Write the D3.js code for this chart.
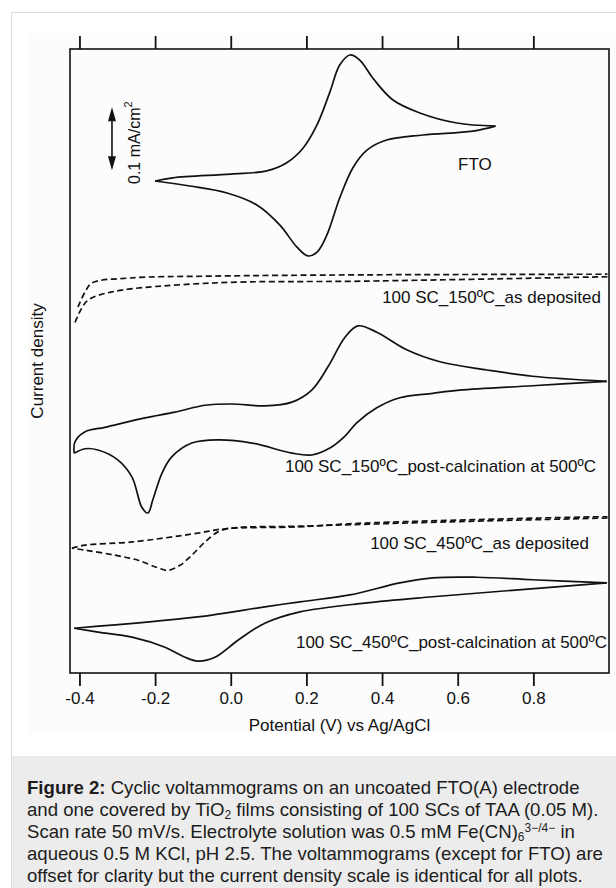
<!DOCTYPE html>
<html>
<head>
<meta charset="utf-8">
<script src="https://cdn.jsdelivr.net/npm/d3@7"></script>
<style>
  body { margin: 0; background: #fff; }
  #wrap { position: relative; width: 616px; height: 888px; overflow: hidden; }
  svg { position: absolute; left: 0; top: 0; }
  #caption {
    position: absolute; left: 27px; top: 777px;
    font-family: "Liberation Sans", Arial, sans-serif; font-size: 18.6px;
    line-height: 22px; color: #1c1c1c; white-space: nowrap;
  }
  #caption sub, #caption sup { font-size: 12px; line-height: 0; }
  #caption sub { vertical-align: -3px; }
  #caption sup { vertical-align: 6px; }
</style>
</head>
<body>
<div id="wrap">
  <svg id="chart" width="616" height="888"></svg>
  <div id="caption">
    <b>Figure 2:</b> Cyclic voltammograms on an uncoated FTO(A) electrode<br>
    and one covered by TiO<sub>2</sub> films consisting of 100 SCs of TAA (0.05 M).<br>
    Scan rate 50 mV/s. Electrolyte solution was 0.5 mM Fe(CN)<sub>6</sub><sup>3−/4−</sup> in<br>
    aqueous 0.5 M KCl, pH 2.5. The voltammograms (except for FTO) are<br>
    offset for clarity but the current density scale is identical for all plots.
  </div>
</div>
<script>
// potential (V vs Ag/AgCl), current density (mA/cm2, with offsets)
const tickValues = [-0.4, -0.2, 0.0, 0.2, 0.4, 0.6, 0.8];
const tickLabels = ["-0.4", "-0.2", "0.0", "0.2", "0.4", "0.6", "0.8"];

// FTO
const ftoFwd = [[-0.200, 0.781], [-0.153, 0.786], [0.000, 0.792], [0.095, 0.797], [0.148, 0.810],
  [0.191, 0.833], [0.228, 0.870], [0.262, 0.922], [0.288, 0.965], [0.315, 0.981], [0.341, 0.973],
  [0.376, 0.944], [0.428, 0.910], [0.500, 0.889], [0.598, 0.873], [0.700, 0.868]];
const ftoRev = [[0.700, 0.868], [0.640, 0.860], [0.508, 0.854], [0.412, 0.846], [0.360, 0.830],
  [0.323, 0.802], [0.288, 0.754], [0.254, 0.695], [0.228, 0.668], [0.204, 0.662], [0.175, 0.676],
  [0.130, 0.711], [0.069, 0.743], [-0.010, 0.762], [-0.108, 0.773], [-0.200, 0.781]];

// 100 SC 150C as deposited (dashed)
const dep150Fwd = [[-0.404, 0.581], [-0.385, 0.605], [-0.367, 0.619], [-0.266, 0.627], [-0.050, 0.630],
  [0.354, 0.632], [0.996, 0.633]];
const dep150Rev = [[0.996, 0.629], [0.354, 0.622], [-0.050, 0.619], [-0.314, 0.605], [-0.377, 0.592],
  [-0.395, 0.578], [-0.412, 0.556]];

// 100 SC 150C post-calcination
const calc150Fwd = [[-0.414, 0.349], [-0.412, 0.367], [-0.385, 0.383], [-0.333, 0.390], [-0.227, 0.405],
  [-0.148, 0.414], [-0.068, 0.425], [0.003, 0.427], [0.090, 0.424], [0.162, 0.430], [0.214, 0.449],
  [0.257, 0.486], [0.302, 0.533], [0.336, 0.551], [0.386, 0.541], [0.465, 0.513], [0.553, 0.494],
  [0.677, 0.481], [0.798, 0.471], [0.994, 0.463]];
const calc150Rev = [[0.994, 0.463], [0.798, 0.456], [0.605, 0.449], [0.534, 0.444], [0.447, 0.437],
  [0.386, 0.421], [0.333, 0.397], [0.302, 0.376], [0.262, 0.357], [0.214, 0.346], [0.162, 0.349],
  [0.056, 0.365], [-0.034, 0.370], [-0.103, 0.365], [-0.156, 0.343], [-0.182, 0.317], [-0.206, 0.275],
  [-0.219, 0.254], [-0.235, 0.263], [-0.261, 0.311], [-0.298, 0.338], [-0.351, 0.354], [-0.385, 0.356],
  [-0.414, 0.349]];

// 100 SC 450C as deposited (dashed)
const dep450Fwd = [[-0.420, 0.198], [-0.385, 0.203], [-0.261, 0.208], [-0.087, 0.222], [-0.015, 0.229],
  [0.177, 0.232], [0.354, 0.238], [0.975, 0.248], [0.996, 0.248]];
const dep450Rev = [[0.996, 0.246], [0.579, 0.240], [0.183, 0.233], [0.003, 0.230], [-0.034, 0.224],
  [-0.068, 0.208], [-0.103, 0.187], [-0.134, 0.171], [-0.166, 0.163], [-0.193, 0.167], [-0.245, 0.179],
  [-0.306, 0.187], [-0.385, 0.195], [-0.420, 0.198]];

// 100 SC 450C post-calcination
const calc450Fwd = [[-0.414, 0.071], [-0.087, 0.089], [0.090, 0.105], [0.183, 0.113], [0.315, 0.124],
  [0.447, 0.143], [0.534, 0.151], [0.650, 0.152], [0.798, 0.148], [0.994, 0.143]];
const calc450Rev = [[0.994, 0.143], [0.534, 0.121], [0.354, 0.111], [0.183, 0.097], [0.090, 0.079],
  [0.019, 0.052], [-0.042, 0.025], [-0.087, 0.019], [-0.121, 0.025], [-0.174, 0.041], [-0.261, 0.057],
  [-0.351, 0.065], [-0.414, 0.071]];

const curves = [
  { name: "FTO", dashed: false, branches: [ftoFwd, ftoRev] },
  { name: "100 SC_150ºC_as deposited", dashed: true, branches: [dep150Fwd, dep150Rev] },
  { name: "100 SC_150ºC_post-calcination at 500ºC", dashed: false, branches: [calc150Fwd, calc150Rev] },
  { name: "100 SC_450ºC_as deposited", dashed: true, branches: [dep450Fwd, dep450Rev] },
  { name: "100 SC_450ºC_post-calcination at 500ºC", dashed: false, branches: [calc450Fwd, calc450Rev] }
];

// label anchors (px)
const labelPos = [
  { x: 458, y: 170, anchor: "start" },
  { x: 601, y: 303, anchor: "end" },
  { x: 596, y: 472, anchor: "end" },
  { x: 589, y: 549, anchor: "end" },
  { x: 607, y: 648, anchor: "end" }
];

const scaleBar = { potential: -0.314, from: 0.798, size: 0.1 };

const font = '"Liberation Sans", Arial, sans-serif';
const ink = "#111";

const svg = d3.select("#chart");

// page panel
svg.append("rect").attr("x", 11.5).attr("y", 12.5).attr("width", 620).attr("height", 890)
  .style("fill", "#fff").style("stroke", "#dcdcdc");
svg.append("rect").attr("x", 27).attr("y", 33).attr("width", 600).attr("height", 700)
  .style("fill", "#fcfcfc");
svg.append("rect").attr("x", 12).attr("y", 756).attr("width", 610).attr("height", 140)
  .style("fill", "#ececec");

const x = d3.scaleLinear().domain([-0.425, 1.0]).range([70, 609]);
const y = d3.scaleLinear().domain([0, 0.9905]).range([673, 49]);

const line = d3.line()
  .x((d) => x(d[0]))
  .y((d) => y(d[1]))
  .curve(d3.curveCatmullRom.alpha(0.5));

const g = svg.append("g");

curves.forEach((c, i) => {
  c.branches.forEach((b) => {
    g.append("path")
      .attr("d", line(b))
      .style("fill", "none")
      .style("stroke", ink)
      .style("stroke-width", 1.7)
      .style("stroke-dasharray", c.dashed ? "6,3.5" : null);
  });
  g.append("text")
    .attr("x", labelPos[i].x)
    .attr("y", labelPos[i].y)
    .attr("text-anchor", labelPos[i].anchor)
    .style("font-family", font)
    .style("font-size", "17px")
    .style("fill", ink)
    .text(c.name);
});

// frame
svg.append("rect")
  .attr("x", 70).attr("y", 49).attr("width", 539).attr("height", 624)
  .style("fill", "none").style("stroke", ink).style("stroke-width", 1.6);

// axes
const bottomAxis = svg.append("g")
  .attr("transform", "translate(0,673)")
  .call(d3.axisBottom(x).tickValues(tickValues).tickSize(13).tickPadding(6)
    .tickFormat((d, i) => tickLabels[i]));
const topAxis = svg.append("g")
  .attr("transform", "translate(0,49)")
  .call(d3.axisTop(x).tickValues(tickValues).tickSize(13).tickFormat(""));

[bottomAxis, topAxis].forEach((a) => {
  a.select(".domain").remove();
  a.selectAll(".tick line").style("stroke", ink).style("stroke-width", 1.8);
  a.selectAll(".tick text").style("font-family", font).style("font-size", "17px").style("fill", ink);
});

svg.append("text")
  .attr("x", (70 + 609) / 2).attr("y", 731)
  .attr("text-anchor", "middle")
  .style("font-family", font).style("font-size", "17px").style("fill", ink)
  .text("Potential (V) vs  Ag/AgCl");

svg.append("text")
  .attr("transform", "translate(43,361) rotate(-90)")
  .attr("text-anchor", "middle")
  .style("font-family", font).style("font-size", "17px").style("fill", ink)
  .text("Current density");

// scale bar
const sbX = x(scaleBar.potential);
const sbY0 = y(scaleBar.from);
const sbY1 = y(scaleBar.from + scaleBar.size);
svg.append("line")
  .attr("x1", sbX).attr("x2", sbX).attr("y1", sbY0 - 8).attr("y2", sbY1 + 8)
  .style("stroke", ink).style("stroke-width", 1.6);
svg.append("path")
  .attr("d", `M${sbX},${sbY1} l-4,14 l8,0 Z M${sbX},${sbY0} l-4,-14 l8,0 Z`)
  .style("fill", ink);

const sbText = svg.append("text")
  .attr("transform", `translate(140,184) rotate(-90)`)
  .style("font-family", font).style("font-size", "16px").style("fill", ink);
sbText.append("tspan").text("0.1 mA/cm");
sbText.append("tspan").attr("dy", -8).style("font-size", "11px").text("2");
</script>
</body>
</html>
